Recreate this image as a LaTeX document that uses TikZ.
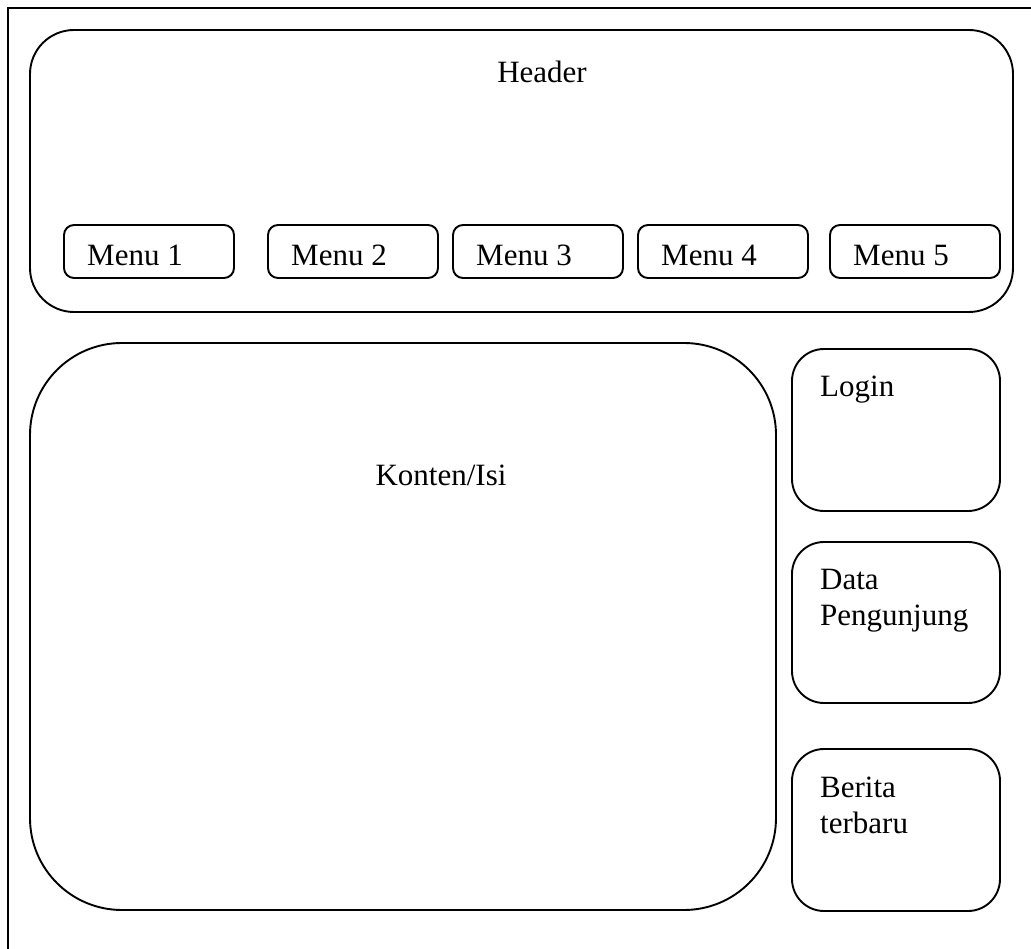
\documentclass[tikz,border=0pt]{standalone}
\usepackage{fontspec}
\setmainfont{Liberation Serif}
\begin{document}
\begin{tikzpicture}[x=1pt,y=-1pt,
  frame/.style={line width=1.9pt},
  panel/.style={draw, line width=1.9pt, rectangle, inner sep=0pt, outer sep=0pt},
  label/.style={inner sep=0pt, font=\fontsize{31}{36}\selectfont, align=left},
  menubox/.style={panel, rounded corners=10pt, minimum width=170pt, minimum height=53pt},
  sidebox/.style={panel, rounded corners=32pt, minimum width=208pt}]
  \useasboundingbox (0,0) rectangle (1031,949);
  % page frame (open on the right and at the bottom)
  \draw[frame] (8,949) -- (8,8) -- (1031,8);
  % header band
  \node[panel, rounded corners=44pt, minimum width=983pt, minimum height=282pt] (header) at (521.5,171) {};
  \node[label, anchor=base] (headertxt) at (542,83) {Header};
  % menu buttons
  \foreach \i/\xl in {1/64, 2/268, 3/453, 4/638, 5/830} {
    \node[menubox, anchor=north west] (menu\i) at (\xl,225) {};
    \node[label, anchor=base west] (menutxt\i) at (\xl+23,266) {Menu \i};
  }
  % main content area
  \node[panel, rounded corners=92pt, minimum width=746pt, minimum height=567pt, anchor=north west] (konten) at (30,343) {};
  \node[label, anchor=base] (kontentxt) at (441,485) {Konten/Isi};
  % sidebar
  \node[sidebox, minimum height=162pt, anchor=north west] (login) at (792,349) {};
  \node[label, anchor=base west] (logintxt) at (820,397) {Login};
  \node[sidebox, minimum height=161pt, anchor=north west] (data) at (792,542) {};
  \node[label, anchor=base west] (datatxt) at (820,589) {Data};
  \node[label, anchor=base west] (datatxt2) at (820,625) {Pengunjung};
  \node[sidebox, minimum height=162pt, anchor=north west] (berita) at (792,749) {};
  \node[label, anchor=base west] (beritatxt) at (820,797) {Berita};
  \node[label, anchor=base west] (beritatxt2) at (820,833) {terbaru};
\end{tikzpicture}
\end{document}
